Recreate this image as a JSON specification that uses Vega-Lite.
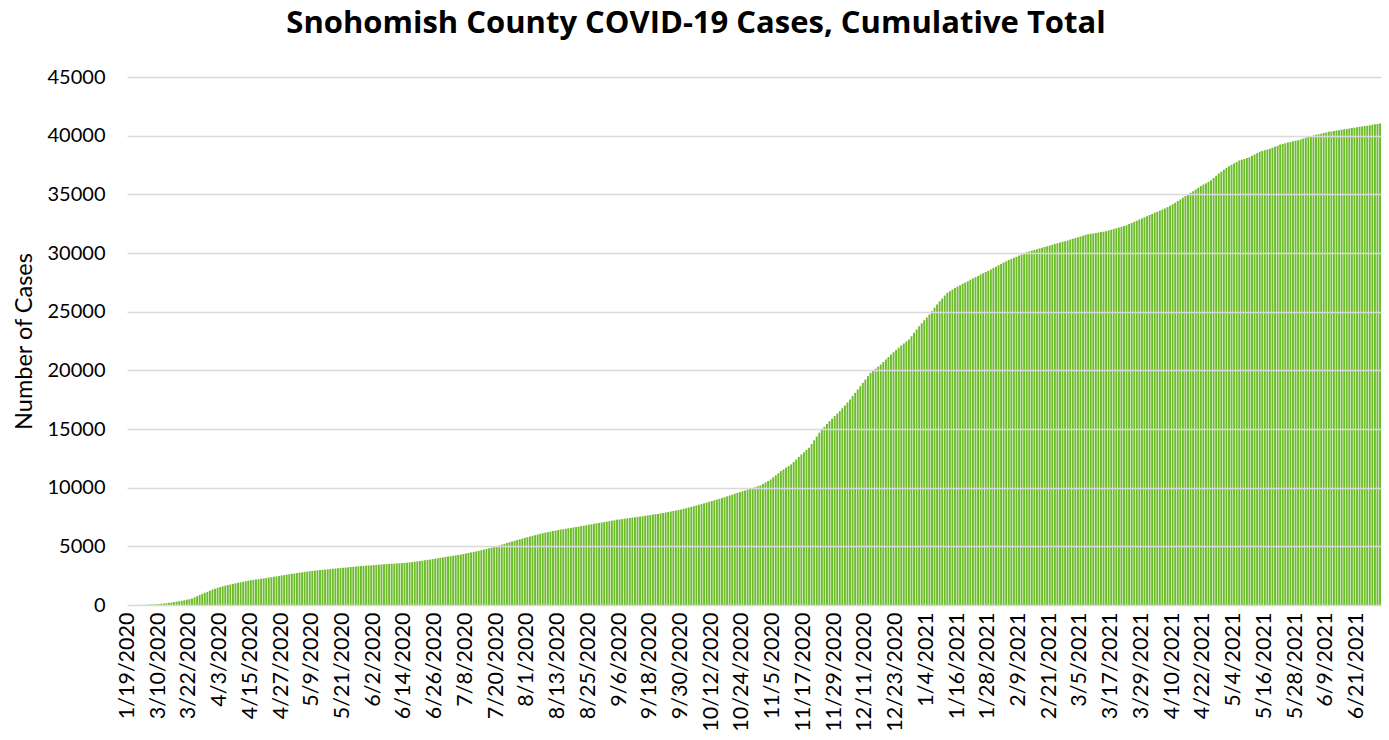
{
  "$schema": "https://vega.github.io/schema/vega-lite/v6.json",
  "autosize": "none",
  "width": 1254,
  "height": 528,
  "padding": {"left": 127, "top": 77, "right": 8, "bottom": 135},
  "background": "white",
  "title": {
    "text": "Snohomish County COVID-19 Cases, Cumulative Total",
    "font": "Open Sans",
    "fontSize": 31,
    "fontWeight": "bold",
    "color": "#000000",
    "anchor": "middle",
    "dx": -58,
    "offset": 27
  },
  "config": {
    "view": {"stroke": null},
    "font": "Lato"
  },
  "data": {
    "values": [
      {"d":"1/19/2020","v":1},{"d":"2/28/2020","v":1},{"d":"2/29/2020","v":2},{"d":"3/1/2020","v":3},{"d":"3/2/2020","v":5},{"d":"3/3/2020","v":8},{"d":"3/4/2020","v":12},{"d":"3/5/2020","v":18},{"d":"3/6/2020","v":26},{"d":"3/7/2020","v":35},{"d":"3/8/2020","v":45},{"d":"3/9/2020","v":60},
      {"d":"3/10/2020","v":80},{"d":"3/11/2020","v":110},{"d":"3/12/2020","v":130},{"d":"3/13/2020","v":155},{"d":"3/14/2020","v":180},{"d":"3/15/2020","v":215},{"d":"3/16/2020","v":250},{"d":"3/17/2020","v":285},{"d":"3/18/2020","v":320},{"d":"3/19/2020","v":360},{"d":"3/20/2020","v":400},{"d":"3/21/2020","v":450},{"d":"3/22/2020","v":500},{"d":"3/23/2020","v":550},{"d":"3/24/2020","v":650},{"d":"3/25/2020","v":750},{"d":"3/26/2020","v":850},{"d":"3/27/2020","v":950},{"d":"3/28/2020","v":1040},{"d":"3/29/2020","v":1120},{"d":"3/30/2020","v":1220},{"d":"3/31/2020","v":1320},
      {"d":"4/1/2020","v":1390},{"d":"4/2/2020","v":1460},{"d":"4/3/2020","v":1530},{"d":"4/4/2020","v":1590},{"d":"4/5/2020","v":1650},{"d":"4/6/2020","v":1700},{"d":"4/7/2020","v":1750},{"d":"4/8/2020","v":1800},{"d":"4/9/2020","v":1845},{"d":"4/10/2020","v":1890},{"d":"4/11/2020","v":1935},{"d":"4/12/2020","v":1980},{"d":"4/13/2020","v":2025},{"d":"4/14/2020","v":2070},{"d":"4/15/2020","v":2110},{"d":"4/16/2020","v":2145},{"d":"4/17/2020","v":2175},{"d":"4/18/2020","v":2205},{"d":"4/19/2020","v":2240},{"d":"4/20/2020","v":2270},{"d":"4/21/2020","v":2305},{"d":"4/22/2020","v":2340},{"d":"4/23/2020","v":2370},{"d":"4/24/2020","v":2405},{"d":"4/25/2020","v":2440},{"d":"4/26/2020","v":2480},{"d":"4/27/2020","v":2515},{"d":"4/28/2020","v":2550},{"d":"4/29/2020","v":2590},{"d":"4/30/2020","v":2625},
      {"d":"5/1/2020","v":2660},{"d":"5/2/2020","v":2690},{"d":"5/3/2020","v":2720},{"d":"5/4/2020","v":2755},{"d":"5/5/2020","v":2785},{"d":"5/6/2020","v":2815},{"d":"5/7/2020","v":2850},{"d":"5/8/2020","v":2880},{"d":"5/9/2020","v":2910},{"d":"5/10/2020","v":2930},{"d":"5/11/2020","v":2950},{"d":"5/12/2020","v":2975},{"d":"5/13/2020","v":2995},{"d":"5/14/2020","v":3020},{"d":"5/15/2020","v":3040},{"d":"5/16/2020","v":3065},{"d":"5/17/2020","v":3085},{"d":"5/18/2020","v":3110},{"d":"5/19/2020","v":3130},{"d":"5/20/2020","v":3150},{"d":"5/21/2020","v":3170},{"d":"5/22/2020","v":3190},{"d":"5/23/2020","v":3215},{"d":"5/24/2020","v":3235},{"d":"5/25/2020","v":3255},{"d":"5/26/2020","v":3280},{"d":"5/27/2020","v":3300},{"d":"5/28/2020","v":3315},{"d":"5/29/2020","v":3330},{"d":"5/30/2020","v":3350},{"d":"5/31/2020","v":3365},
      {"d":"6/1/2020","v":3385},{"d":"6/2/2020","v":3400},{"d":"6/3/2020","v":3420},{"d":"6/4/2020","v":3435},{"d":"6/5/2020","v":3455},{"d":"6/6/2020","v":3470},{"d":"6/7/2020","v":3485},{"d":"6/8/2020","v":3500},{"d":"6/9/2020","v":3515},{"d":"6/10/2020","v":3530},{"d":"6/11/2020","v":3545},{"d":"6/12/2020","v":3560},{"d":"6/13/2020","v":3575},{"d":"6/14/2020","v":3590},{"d":"6/15/2020","v":3610},{"d":"6/16/2020","v":3635},{"d":"6/17/2020","v":3665},{"d":"6/18/2020","v":3690},{"d":"6/19/2020","v":3720},{"d":"6/20/2020","v":3750},{"d":"6/21/2020","v":3780},{"d":"6/22/2020","v":3810},{"d":"6/23/2020","v":3845},{"d":"6/24/2020","v":3880},{"d":"6/25/2020","v":3915},{"d":"6/26/2020","v":3950},{"d":"6/27/2020","v":3985},{"d":"6/28/2020","v":4020},{"d":"6/29/2020","v":4055},{"d":"6/30/2020","v":4090},
      {"d":"7/1/2020","v":4125},{"d":"7/2/2020","v":4160},{"d":"7/3/2020","v":4195},{"d":"7/4/2020","v":4230},{"d":"7/5/2020","v":4265},{"d":"7/6/2020","v":4300},{"d":"7/7/2020","v":4345},{"d":"7/8/2020","v":4390},{"d":"7/9/2020","v":4435},{"d":"7/10/2020","v":4480},{"d":"7/11/2020","v":4525},{"d":"7/12/2020","v":4570},{"d":"7/13/2020","v":4620},{"d":"7/14/2020","v":4675},{"d":"7/15/2020","v":4730},{"d":"7/16/2020","v":4785},{"d":"7/17/2020","v":4840},{"d":"7/18/2020","v":4895},{"d":"7/19/2020","v":4950},{"d":"7/20/2020","v":5010},{"d":"7/21/2020","v":5080},{"d":"7/22/2020","v":5150},{"d":"7/23/2020","v":5215},{"d":"7/24/2020","v":5285},{"d":"7/25/2020","v":5350},{"d":"7/26/2020","v":5410},{"d":"7/27/2020","v":5470},{"d":"7/28/2020","v":5535},{"d":"7/29/2020","v":5595},{"d":"7/30/2020","v":5660},{"d":"7/31/2020","v":5720},
      {"d":"8/1/2020","v":5780},{"d":"8/2/2020","v":5835},{"d":"8/3/2020","v":5895},{"d":"8/4/2020","v":5950},{"d":"8/5/2020","v":6010},{"d":"8/6/2020","v":6065},{"d":"8/7/2020","v":6120},{"d":"8/8/2020","v":6165},{"d":"8/9/2020","v":6210},{"d":"8/10/2020","v":6255},{"d":"8/11/2020","v":6300},{"d":"8/12/2020","v":6345},{"d":"8/13/2020","v":6390},{"d":"8/14/2020","v":6430},{"d":"8/15/2020","v":6465},{"d":"8/16/2020","v":6500},{"d":"8/17/2020","v":6540},{"d":"8/18/2020","v":6575},{"d":"8/19/2020","v":6610},{"d":"8/20/2020","v":6650},{"d":"8/21/2020","v":6685},{"d":"8/22/2020","v":6720},{"d":"8/23/2020","v":6760},{"d":"8/24/2020","v":6800},{"d":"8/25/2020","v":6840},{"d":"8/26/2020","v":6880},{"d":"8/27/2020","v":6920},{"d":"8/28/2020","v":6960},{"d":"8/29/2020","v":7000},{"d":"8/30/2020","v":7035},{"d":"8/31/2020","v":7070},
      {"d":"9/1/2020","v":7110},{"d":"9/2/2020","v":7145},{"d":"9/3/2020","v":7180},{"d":"9/4/2020","v":7220},{"d":"9/5/2020","v":7255},{"d":"9/6/2020","v":7290},{"d":"9/7/2020","v":7320},{"d":"9/8/2020","v":7350},{"d":"9/9/2020","v":7385},{"d":"9/10/2020","v":7415},{"d":"9/11/2020","v":7445},{"d":"9/12/2020","v":7480},{"d":"9/13/2020","v":7510},{"d":"9/14/2020","v":7540},{"d":"9/15/2020","v":7570},{"d":"9/16/2020","v":7605},{"d":"9/17/2020","v":7635},{"d":"9/18/2020","v":7670},{"d":"9/19/2020","v":7700},{"d":"9/20/2020","v":7735},{"d":"9/21/2020","v":7765},{"d":"9/22/2020","v":7800},{"d":"9/23/2020","v":7840},{"d":"9/24/2020","v":7885},{"d":"9/25/2020","v":7925},{"d":"9/26/2020","v":7970},{"d":"9/27/2020","v":8010},{"d":"9/28/2020","v":8055},{"d":"9/29/2020","v":8095},{"d":"9/30/2020","v":8140},
      {"d":"10/1/2020","v":8195},{"d":"10/2/2020","v":8255},{"d":"10/3/2020","v":8310},{"d":"10/4/2020","v":8370},{"d":"10/5/2020","v":8425},{"d":"10/6/2020","v":8485},{"d":"10/7/2020","v":8540},{"d":"10/8/2020","v":8605},{"d":"10/9/2020","v":8665},{"d":"10/10/2020","v":8730},{"d":"10/11/2020","v":8795},{"d":"10/12/2020","v":8860},{"d":"10/13/2020","v":8920},{"d":"10/14/2020","v":8985},{"d":"10/15/2020","v":9050},{"d":"10/16/2020","v":9120},{"d":"10/17/2020","v":9190},{"d":"10/18/2020","v":9265},{"d":"10/19/2020","v":9335},{"d":"10/20/2020","v":9405},{"d":"10/21/2020","v":9480},{"d":"10/22/2020","v":9550},{"d":"10/23/2020","v":9620},{"d":"10/24/2020","v":9690},{"d":"10/25/2020","v":9760},{"d":"10/26/2020","v":9835},{"d":"10/27/2020","v":9905},{"d":"10/28/2020","v":9975},{"d":"10/29/2020","v":10045},{"d":"10/30/2020","v":10120},{"d":"10/31/2020","v":10190},
      {"d":"11/1/2020","v":10310},{"d":"11/2/2020","v":10440},{"d":"11/3/2020","v":10570},{"d":"11/4/2020","v":10700},{"d":"11/5/2020","v":10880},{"d":"11/6/2020","v":11050},{"d":"11/7/2020","v":11230},{"d":"11/8/2020","v":11410},{"d":"11/9/2020","v":11550},{"d":"11/10/2020","v":11700},{"d":"11/11/2020","v":11840},{"d":"11/12/2020","v":11980},{"d":"11/13/2020","v":12190},{"d":"11/14/2020","v":12400},{"d":"11/15/2020","v":12620},{"d":"11/16/2020","v":12830},{"d":"11/17/2020","v":13020},{"d":"11/18/2020","v":13210},{"d":"11/19/2020","v":13400},{"d":"11/20/2020","v":13720},{"d":"11/21/2020","v":14040},{"d":"11/22/2020","v":14360},{"d":"11/23/2020","v":14680},{"d":"11/24/2020","v":14930},{"d":"11/25/2020","v":15180},{"d":"11/26/2020","v":15420},{"d":"11/27/2020","v":15670},{"d":"11/28/2020","v":15880},{"d":"11/29/2020","v":16100},{"d":"11/30/2020","v":16310},
      {"d":"12/1/2020","v":16520},{"d":"12/2/2020","v":16770},{"d":"12/3/2020","v":17010},{"d":"12/4/2020","v":17260},{"d":"12/5/2020","v":17510},{"d":"12/6/2020","v":17800},{"d":"12/7/2020","v":18080},{"d":"12/8/2020","v":18370},{"d":"12/9/2020","v":18650},{"d":"12/10/2020","v":18940},{"d":"12/11/2020","v":19220},{"d":"12/12/2020","v":19510},{"d":"12/13/2020","v":19790},{"d":"12/14/2020","v":19970},{"d":"12/15/2020","v":20140},{"d":"12/16/2020","v":20320},{"d":"12/17/2020","v":20500},{"d":"12/18/2020","v":20710},{"d":"12/19/2020","v":20930},{"d":"12/20/2020","v":21140},{"d":"12/21/2020","v":21350},{"d":"12/22/2020","v":21540},{"d":"12/23/2020","v":21740},{"d":"12/24/2020","v":21930},{"d":"12/25/2020","v":22120},{"d":"12/26/2020","v":22290},{"d":"12/27/2020","v":22460},{"d":"12/28/2020","v":22630},{"d":"12/29/2020","v":22910},{"d":"12/30/2020","v":23200},{"d":"12/31/2020","v":23480},
      {"d":"1/1/2021","v":23760},{"d":"1/2/2021","v":24010},{"d":"1/3/2021","v":24260},{"d":"1/4/2021","v":24510},{"d":"1/5/2021","v":24760},{"d":"1/6/2021","v":25040},{"d":"1/7/2021","v":25330},{"d":"1/8/2021","v":25610},{"d":"1/9/2021","v":25890},{"d":"1/10/2021","v":26130},{"d":"1/11/2021","v":26370},{"d":"1/12/2021","v":26610},{"d":"1/13/2021","v":26740},{"d":"1/14/2021","v":26880},{"d":"1/15/2021","v":27010},{"d":"1/16/2021","v":27140},{"d":"1/17/2021","v":27260},{"d":"1/18/2021","v":27370},{"d":"1/19/2021","v":27490},{"d":"1/20/2021","v":27600},{"d":"1/21/2021","v":27720},{"d":"1/22/2021","v":27830},{"d":"1/23/2021","v":27940},{"d":"1/24/2021","v":28050},{"d":"1/25/2021","v":28160},{"d":"1/26/2021","v":28270},{"d":"1/27/2021","v":28380},{"d":"1/28/2021","v":28490},{"d":"1/29/2021","v":28600},{"d":"1/30/2021","v":28720},{"d":"1/31/2021","v":28830},
      {"d":"2/1/2021","v":28950},{"d":"2/2/2021","v":29070},{"d":"2/3/2021","v":29180},{"d":"2/4/2021","v":29300},{"d":"2/5/2021","v":29400},{"d":"2/6/2021","v":29490},{"d":"2/7/2021","v":29590},{"d":"2/8/2021","v":29690},{"d":"2/9/2021","v":29780},{"d":"2/10/2021","v":29880},{"d":"2/11/2021","v":29970},{"d":"2/12/2021","v":30070},{"d":"2/13/2021","v":30130},{"d":"2/14/2021","v":30200},{"d":"2/15/2021","v":30260},{"d":"2/16/2021","v":30330},{"d":"2/17/2021","v":30390},{"d":"2/18/2021","v":30450},{"d":"2/19/2021","v":30520},{"d":"2/20/2021","v":30580},{"d":"2/21/2021","v":30640},{"d":"2/22/2021","v":30700},{"d":"2/23/2021","v":30760},{"d":"2/24/2021","v":30830},{"d":"2/25/2021","v":30890},{"d":"2/26/2021","v":30950},{"d":"2/27/2021","v":31010},{"d":"2/28/2021","v":31070},
      {"d":"3/1/2021","v":31140},{"d":"3/2/2021","v":31210},{"d":"3/3/2021","v":31280},{"d":"3/4/2021","v":31340},{"d":"3/5/2021","v":31410},{"d":"3/6/2021","v":31480},{"d":"3/7/2021","v":31550},{"d":"3/8/2021","v":31590},{"d":"3/9/2021","v":31630},{"d":"3/10/2021","v":31670},{"d":"3/11/2021","v":31700},{"d":"3/12/2021","v":31740},{"d":"3/13/2021","v":31780},{"d":"3/14/2021","v":31820},{"d":"3/15/2021","v":31860},{"d":"3/16/2021","v":31920},{"d":"3/17/2021","v":31990},{"d":"3/18/2021","v":32050},{"d":"3/19/2021","v":32120},{"d":"3/20/2021","v":32180},{"d":"3/21/2021","v":32240},{"d":"3/22/2021","v":32310},{"d":"3/23/2021","v":32370},{"d":"3/24/2021","v":32470},{"d":"3/25/2021","v":32560},{"d":"3/26/2021","v":32660},{"d":"3/27/2021","v":32750},{"d":"3/28/2021","v":32850},{"d":"3/29/2021","v":32950},{"d":"3/30/2021","v":33040},{"d":"3/31/2021","v":33140},
      {"d":"4/1/2021","v":33240},{"d":"4/2/2021","v":33330},{"d":"4/3/2021","v":33430},{"d":"4/4/2021","v":33520},{"d":"4/5/2021","v":33610},{"d":"4/6/2021","v":33710},{"d":"4/7/2021","v":33800},{"d":"4/8/2021","v":33900},{"d":"4/9/2021","v":34030},{"d":"4/10/2021","v":34160},{"d":"4/11/2021","v":34290},{"d":"4/12/2021","v":34430},{"d":"4/13/2021","v":34560},{"d":"4/14/2021","v":34700},{"d":"4/15/2021","v":34850},{"d":"4/16/2021","v":34990},{"d":"4/17/2021","v":35130},{"d":"4/18/2021","v":35270},{"d":"4/19/2021","v":35420},{"d":"4/20/2021","v":35560},{"d":"4/21/2021","v":35700},{"d":"4/22/2021","v":35830},{"d":"4/23/2021","v":35950},{"d":"4/24/2021","v":36080},{"d":"4/25/2021","v":36200},{"d":"4/26/2021","v":36390},{"d":"4/27/2021","v":36580},{"d":"4/28/2021","v":36770},{"d":"4/29/2021","v":36930},{"d":"4/30/2021","v":37090},
      {"d":"5/1/2021","v":37240},{"d":"5/2/2021","v":37400},{"d":"5/3/2021","v":37520},{"d":"5/4/2021","v":37640},{"d":"5/5/2021","v":37760},{"d":"5/6/2021","v":37880},{"d":"5/7/2021","v":37950},{"d":"5/8/2021","v":38020},{"d":"5/9/2021","v":38090},{"d":"5/10/2021","v":38160},{"d":"5/11/2021","v":38280},{"d":"5/12/2021","v":38390},{"d":"5/13/2021","v":38510},{"d":"5/14/2021","v":38620},{"d":"5/15/2021","v":38690},{"d":"5/16/2021","v":38750},{"d":"5/17/2021","v":38820},{"d":"5/18/2021","v":38880},{"d":"5/19/2021","v":38970},{"d":"5/20/2021","v":39060},{"d":"5/21/2021","v":39150},{"d":"5/22/2021","v":39240},{"d":"5/23/2021","v":39300},{"d":"5/24/2021","v":39350},{"d":"5/25/2021","v":39410},{"d":"5/26/2021","v":39470},{"d":"5/27/2021","v":39520},{"d":"5/28/2021","v":39570},{"d":"5/29/2021","v":39620},{"d":"5/30/2021","v":39670},{"d":"5/31/2021","v":39750},
      {"d":"6/1/2021","v":39820},{"d":"6/2/2021","v":39900},{"d":"6/3/2021","v":39960},{"d":"6/4/2021","v":40010},{"d":"6/5/2021","v":40070},{"d":"6/6/2021","v":40120},{"d":"6/7/2021","v":40170},{"d":"6/8/2021","v":40230},{"d":"6/9/2021","v":40280},{"d":"6/10/2021","v":40330},{"d":"6/11/2021","v":40360},{"d":"6/12/2021","v":40400},{"d":"6/13/2021","v":40430},{"d":"6/14/2021","v":40460},{"d":"6/15/2021","v":40500},{"d":"6/16/2021","v":40540},{"d":"6/17/2021","v":40570},{"d":"6/18/2021","v":40610},{"d":"6/19/2021","v":40650},{"d":"6/20/2021","v":40680},{"d":"6/21/2021","v":40715},{"d":"6/22/2021","v":40750},{"d":"6/23/2021","v":40785},{"d":"6/24/2021","v":40820},{"d":"6/25/2021","v":40855},{"d":"6/26/2021","v":40890},{"d":"6/27/2021","v":40930},{"d":"6/28/2021","v":40965},{"d":"6/29/2021","v":41000},{"d":"6/30/2021","v":41040}
    ]
  },
  "mark": {"type": "bar", "color": "#6cbc2a"},
  "encoding": {
    "x": {
      "field": "d",
      "type": "ordinal",
      "sort": null,
      "title": null,
      "scale": {"paddingInner": 0.25, "paddingOuter": 0},
      "axis": {
        "values": ["1/19/2020","3/10/2020","3/22/2020","4/3/2020","4/15/2020","4/27/2020","5/9/2020","5/21/2020","6/2/2020","6/14/2020","6/26/2020","7/8/2020","7/20/2020","8/1/2020","8/13/2020","8/25/2020","9/6/2020","9/18/2020","9/30/2020","10/12/2020","10/24/2020","11/5/2020","11/17/2020","11/29/2020","12/11/2020","12/23/2020","1/4/2021","1/16/2021","1/28/2021","2/9/2021","2/21/2021","3/5/2021","3/17/2021","3/29/2021","4/10/2021","4/22/2021","5/4/2021","5/16/2021","5/28/2021","6/9/2021","6/21/2021"],
        "labelAngle": -90,
        "labelFont": "Lato",
        "labelFontSize": 21.5,
        "labelColor": "#000000",
        "labelPadding": 7,
        "labelOverlap": false,
        "ticks": false,
        "domain": false,
        "grid": false
      }
    },
    "y": {
      "field": "v",
      "type": "quantitative",
      "title": "Number of Cases",
      "scale": {"domain": [0, 45000], "nice": false},
      "axis": {
        "values": [0,5000,10000,15000,20000,25000,30000,35000,40000,45000],
        "format": "d",
        "labelFont": "Lato",
        "labelFontSize": 20,
        "labelColor": "#000000",
        "labelPadding": 22,
        "ticks": false,
        "domain": false,
        "grid": true,
        "gridColor": "#d9d9d9",
        "gridWidth": 1.5,
        "zindex": 1,
        "titleFont": "Lato",
        "titleFontSize": 23.5,
        "titleFontWeight": "normal",
        "titleColor": "#000000",
        "titlePadding": 11
      }
    }
  }
}
